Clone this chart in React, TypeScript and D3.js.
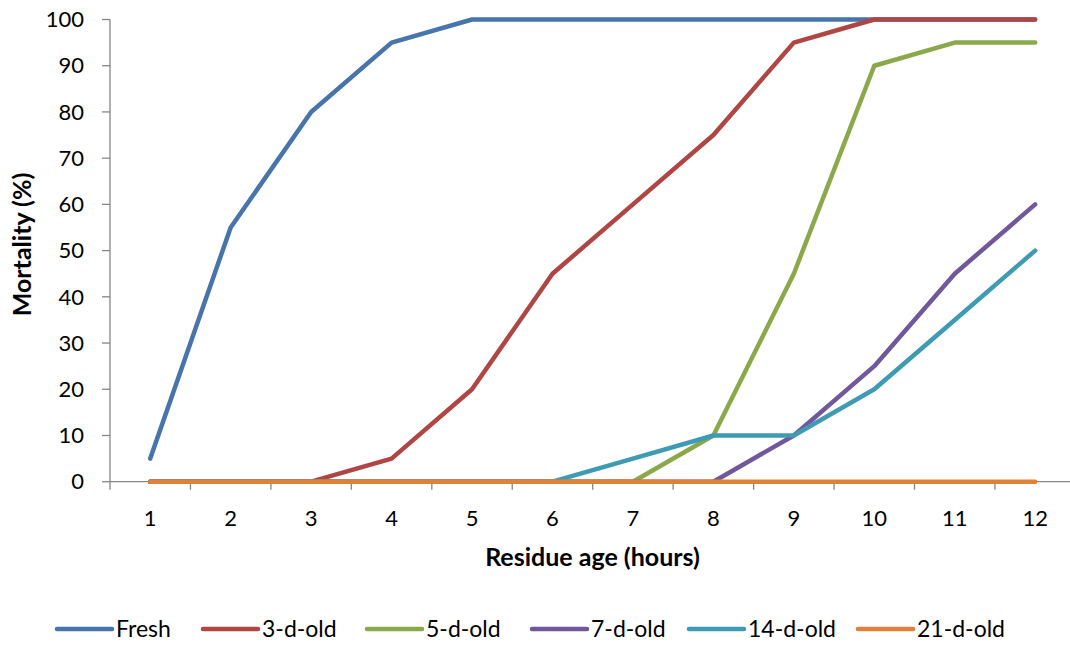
import React from "react";
import * as d3 from "d3";

const hours = ["1", "2", "3", "4", "5", "6", "7", "8", "9", "10", "11", "12"];
const yTicks = [0, 10, 20, 30, 40, 50, 60, 70, 80, 90, 100];

const fresh = [5, 55, 80, 95, 100, 100, 100, 100, 100, 100, 100, 100];
const d3old = [0, 0, 0, 5, 20, 45, 60, 75, 95, 100, 100, 100];
const d5old = [0, 0, 0, 0, 0, 0, 0, 10, 45, 90, 95, 95];
const d7old = [0, 0, 0, 0, 0, 0, 0, 0, 10, 25, 45, 60];
const d14old = [0, 0, 0, 0, 0, 0, 5, 10, 10, 20, 35, 50];
const d21old = [0, 0, 0, 0, 0, 0, 0, 0, 0, 0, 0, 0];

const seriesNames = ["Fresh", "3-d-old", "5-d-old", "7-d-old", "14-d-old", "21-d-old"];
const seriesValues = [fresh, d3old, d5old, d7old, d14old, d21old];
const colors = ["#4674ab", "#b04643", "#8ba94a", "#71589a", "#3f9ab3", "#df8139"];

// legend sample start positions
const legendX = [57, 203, 367, 532, 689, 858];

const W = 1070;
const H = 646;
const font = "Lato, 'Open Sans', sans-serif";

export default function App() {
  const x = d3.scaleBand<string>().domain(hours).range([110, 1075.4]).padding(0);
  const y = d3.scaleLinear().domain([0, 100]).range([481.7, 19.5]);
  const cx = (h: string) => (x(h) as number) + x.bandwidth() / 2;

  const line = d3
    .line<number>()
    .x((d, i) => cx(hours[i]))
    .y((d) => y(d));

  const boundaries = hours.map((h) => x(h) as number);
  const axisColor = "#868686";

  return (
    <div style={{ position: "absolute", left: 0, top: 0 }}>
      <svg width={W} height={H} style={{ display: "block", background: "#fff" }}>
        {/* y axis */}
        <line x1={110} x2={110} y1={y(100)} y2={y(0)} stroke={axisColor} strokeWidth={1.3} />
        {yTicks.map((t) => (
          <g key={t}>
            <line x1={102} x2={110} y1={y(t)} y2={y(t)} stroke={axisColor} strokeWidth={1.3} />
            <text
              x={84}
              y={y(t)}
              dy="0.35em"
              textAnchor="end"
              fontFamily={font}
              fontSize={22}
              fill="#000"
            >
              {t}
            </text>
          </g>
        ))}
        {/* x axis */}
        <line x1={110} x2={1075.4} y1={y(0)} y2={y(0)} stroke={axisColor} strokeWidth={1.3} />
        {boundaries.map((b, i) => (
          <line key={i} x1={b} x2={b} y1={y(0)} y2={y(0) + 8} stroke={axisColor} strokeWidth={1.3} />
        ))}
        {hours.map((h) => (
          <text
            key={h}
            x={cx(h)}
            y={518}
            dy="0.35em"
            textAnchor="middle"
            fontFamily={font}
            fontSize={22}
            fill="#000"
          >
            {h}
          </text>
        ))}
        {/* series */}
        {seriesValues.map((vals, i) => (
          <path
            key={seriesNames[i]}
            d={line(vals) as string}
            fill="none"
            stroke={colors[i]}
            strokeWidth={4.5}
            strokeLinejoin="round"
            strokeLinecap="round"
          />
        ))}
        {/* axis titles */}
        <text
          transform={`translate(22,244.5) rotate(-90)`}
          dy="0.35em"
          textAnchor="middle"
          fontFamily={font}
          fontWeight="bold"
          fontSize={25}
          fill="#000"
        >
          Mortality (%)
        </text>
        <text
          x={592.5}
          y={557}
          dy="0.35em"
          textAnchor="middle"
          fontFamily={font}
          fontWeight="bold"
          fontSize={25}
          fill="#000"
        >
          Residue age (hours)
        </text>
        {/* legend */}
        {seriesNames.map((n, i) => (
          <g key={n}>
            <line
              x1={legendX[i]}
              x2={legendX[i] + 55}
              y1={629}
              y2={629}
              stroke={colors[i]}
              strokeWidth={4.5}
              strokeLinecap="round"
            />
            <text
              x={legendX[i] + 59}
              y={629}
              dy="0.35em"
              fontFamily={font}
              fontSize={23}
              fill="#000"
            >
              {n}
            </text>
          </g>
        ))}
      </svg>
    </div>
  );
}
